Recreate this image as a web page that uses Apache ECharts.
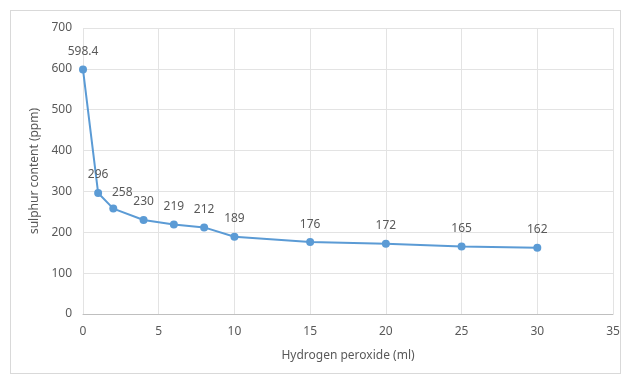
<!DOCTYPE html>
<html>
<head>
<meta charset="utf-8">
<script src="https://cdn.jsdelivr.net/npm/echarts@6/dist/echarts.min.js"></script>
<style>
html,body{margin:0;padding:0;background:#fff;}
#wrap{position:absolute;left:10px;top:10px;width:611px;height:364px;border:1px solid #d9d9d9;box-sizing:border-box;}
#chart{position:absolute;left:0;top:0;width:625px;height:378px;}
</style>
</head>
<body>
<div id="wrap"></div>
<div id="chart"></div>
<script>
// 过氧化氢用量 (ml) 与硫含量 (ppm)
var peroxide = [0, 1, 2, 4, 6, 8, 10, 15, 20, 25, 30];
var sulphur = [598.4, 296, 258, 230, 219, 212, 189, 176, 172, 165, 162];

var myChart = echarts.init(document.getElementById("chart"));

var pts = [];
for (var i = 0; i < peroxide.length; i++) {
	var p = { value: [peroxide[i], sulphur[i]] };
	if (sulphur[i] == 258) {
		p.label = { offset: [9, 2] };
	}
	pts.push(p);
}

var font = "'Noto Sans', sans-serif";
var option = {
	animation: false,
	grid: { left: 83, right: 12, top: 28, bottom: 64 },
	xAxis: {
		type: 'value',
		min: 0, max: 35, interval: 5,
		name: 'Hydrogen peroxide (ml)',
		nameLocation: 'middle',
		nameGap: 36,
		nameTextStyle: { color: '#595959', fontSize: 12, fontFamily: font },
		axisLine: { show: true, lineStyle: { color: '#bfbfbf' } },
		axisTick: { show: false },
		axisLabel: { color: '#595959', fontSize: 12, fontFamily: font, margin: 12 },
		splitLine: { show: true, lineStyle: { color: '#e3e3e3' } }
	},
	yAxis: {
		type: 'value',
		min: 0, max: 700, interval: 100,
		name: 'sulphur content (ppm)',
		nameLocation: 'middle',
		nameGap: 40,
		nameTextStyle: { color: '#595959', fontSize: 12, fontFamily: font },
		axisLine: { show: false },
		axisTick: { show: false },
		axisLabel: { color: '#595959', fontSize: 12, fontFamily: font, margin: 11 },
		splitLine: { show: true, lineStyle: { color: '#e3e3e3' } }
	},
	series: [{
		type: 'line',
		data: pts,
		symbol: 'circle',
		symbolSize: 8,
		lineStyle: { color: '#5b9bd5', width: 2 },
		itemStyle: { color: '#5b9bd5' },
		label: {
			show: true,
			position: 'top',
			distance: 8,
			color: '#595959',
			fontSize: 12,
			fontFamily: font
		}
	}]
};

myChart.setOption(option);
</script>
</body>
</html>
